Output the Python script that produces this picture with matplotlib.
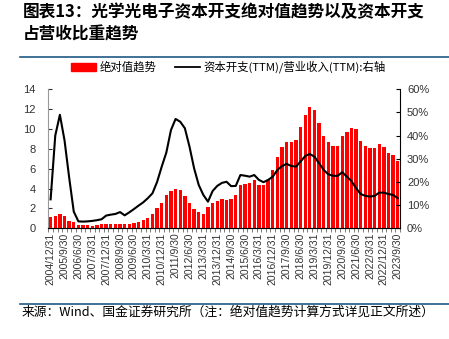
import matplotlib
matplotlib.use("Agg")
import matplotlib.pyplot as plt
import numpy as np
from matplotlib.lines import Line2D
from matplotlib.patches import Patch
from matplotlib.ticker import FuncFormatter

plt.rcParams['font.family'] = ['Liberation Sans', 'Noto Sans CJK SC', 'DejaVu Sans']
CJK = ['Noto Sans CJK SC', 'DejaVu Sans']

# 季度 2004Q4 - 2023Q3
quarter_ends = ["3/31", "6/30", "9/30", "12/31"]
dates = ["2004/12/31"]
for y in range(2005, 2024):
    for q in quarter_ends:
        if y == 2023 and q == "12/31":
            break
        dates.append(f"{y}/{q}")

abs_trend = [1.1, 1.27, 1.44, 1.2, 0.77, 0.64, 0.34, 0.34, 0.34, 0.27,
             0.34, 0.44, 0.44, 0.44, 0.47, 0.44, 0.44, 0.47, 0.54, 0.67,
             0.84, 1.07, 1.44, 2.0, 2.5, 3.35, 3.8, 3.95, 3.9, 3.25,
             2.5, 1.95, 1.64, 1.44, 2.15, 2.55, 2.8, 3.0, 2.85, 3.0,
             3.35, 4.36, 4.5, 4.56, 4.87, 4.36, 4.36, 4.87, 5.87, 7.15,
             8.19, 8.72, 8.72, 8.93, 10.17, 11.44, 12.2, 11.95, 10.6, 9.33,
             8.69, 8.29, 8.32, 9.33, 9.66, 10.1, 10.0, 8.79, 8.32, 8.12,
             8.05, 8.49, 8.22, 7.62, 7.38, 6.74]

capex_ratio = [12.5, 40.0, 49.0, 38.0, 22.0, 7.2, 3.0, 2.9, 3.0, 3.2,
               3.5, 3.9, 5.5, 5.9, 6.2, 7.0, 5.6, 6.9, 8.3, 9.8,
               11.2, 13.0, 15.1, 20.0, 26.6, 32.7, 42.4, 47.2, 46.0, 43.2,
               35.3, 25.9, 18.7, 14.4, 11.5, 16.1, 18.3, 19.6, 20.1, 18.2,
               18.3, 23.0, 22.7, 22.3, 23.0, 20.9, 19.9, 20.9, 22.3, 25.2,
               26.9, 27.8, 26.9, 26.6, 28.8, 31.2, 32.1, 30.9, 28.1, 25.2,
               23.3, 22.7, 22.6, 24.2, 22.3, 20.4, 17.3, 14.8, 14.0, 13.7,
               14.0, 15.4, 15.4, 14.8, 14.4, 13.0]

x = np.arange(len(dates))

fig = plt.figure(figsize=(4.49, 3.39), dpi=100)
ax = fig.add_axes([0.1076, 0.3265, 0.7834, 0.4101])
ax.bar(x, abs_trend, width=0.72, color='#FF0000', zorder=2)
ax.set_xlim(-0.5, len(dates) - 0.5)
ax.set_ylim(0, 14)
ax.set_yticks(np.arange(0, 15, 2))

ax2 = ax.twinx()
ax2.plot(x, capex_ratio, color='black', lw=1.5, zorder=3)
ax2.set_ylim(0, 60)
ax2.set_yticks(np.arange(0, 61, 10))
ax2.yaxis.set_major_formatter(FuncFormatter(lambda v, p: f"{v:.0f}%"))

ax.set_xticks(x[::3])
ax.set_xticklabels(dates[::3], rotation=90, fontsize=7.5, color='#333333')
ax.set_xticks(np.arange(-0.5, len(dates), 1), minor=True)
ax.tick_params(axis='x', which='major', length=0, pad=3)
ax.tick_params(axis='x', which='minor', length=3, width=0.6, color='#666666')
ax.tick_params(axis='y', direction='in', length=3, labelsize=8, colors='#333333', pad=9)
ax2.tick_params(axis='y', direction='in', length=3, labelsize=8, labelcolor='#333333', pad=5)

for a in (ax, ax2):
    a.spines['top'].set_visible(False)
ax.spines['left'].set_color('#999999')
ax2.spines['left'].set_visible(False)
ax.spines['right'].set_visible(False)
ax2.spines['right'].set_color('black')
ax.spines['bottom'].set_color('#666666')

handles = [Patch(color='#FF0000'), Line2D([0], [0], color='black', lw=1.3)]
labels = ['绝对值趋势', '资本开支(TTM)/营业收入(TTM):右轴']
fig.legend(handles, labels, loc='center', bbox_to_anchor=(0.509, 0.802), ncol=2,
           frameon=False, handlelength=2.2, handleheight=0.6,
           columnspacing=1.6, handletextpad=0.3,
           prop={'family': CJK, 'size': 8.2})

fig.text(0.051, 0.963, '图表13：光学光电子资本开支绝对值趋势以及资本开支',
         fontsize=12, fontweight='bold', fontstyle='italic',
         family=CJK, va='center')
fig.text(0.051, 0.898, '占营收比重趋势',
         fontsize=12, fontweight='bold', fontstyle='italic',
         family=CJK, va='center')
fig.add_artist(Line2D([0.045, 1.0], [0.833, 0.833], color='#1F5A85', lw=1.2))
fig.add_artist(Line2D([0.045, 1.0], [0.103, 0.103], color='#1F5A85', lw=1.2))
fig.text(0.049, 0.08, '来源：Wind、国金证券研究所（注：绝对值趋势计算方式详见正文所述）',
         fontsize=9.2, family=CJK, va='center')

fig.savefig('out.png', dpi=100)
